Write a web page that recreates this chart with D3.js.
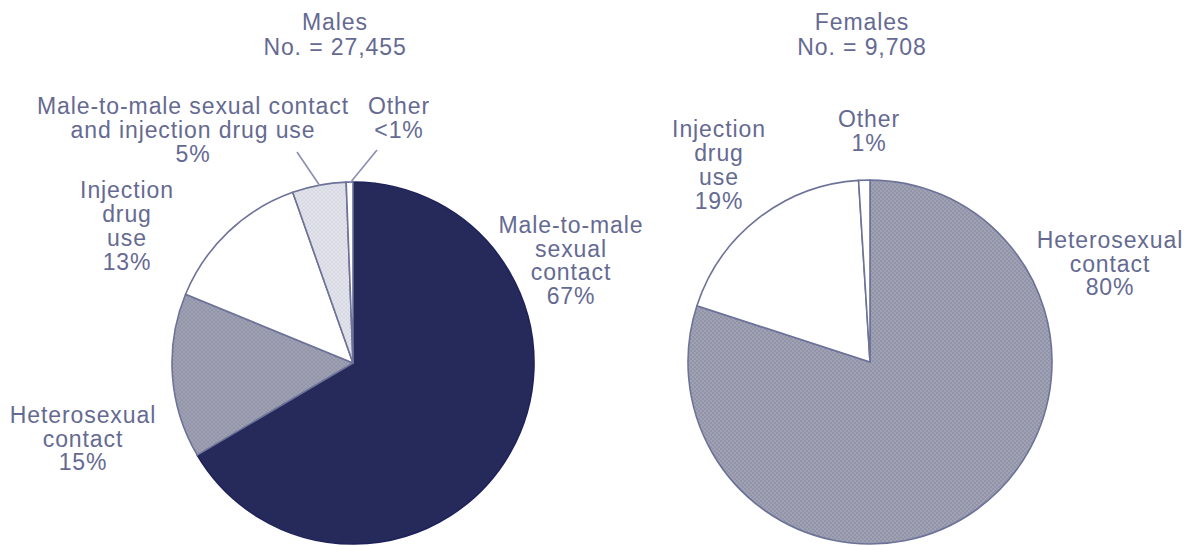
<!DOCTYPE html>
<html>
<head>
<meta charset="utf-8">
<script src="https://cdn.jsdelivr.net/npm/d3@7"></script>
<style>
  body { margin: 0; background: #fff; }
  svg { display: block; }
</style>
</head>
<body>
<svg id="chart" width="1193" height="546"></svg>
<script>
// data
const maleTitle = ["Males", "No. = 27,455"];
const maleCategories = ["Male-to-male sexual contact", "Heterosexual contact", "Injection drug use",
                        "Male-to-male sexual contact and injection drug use", "Other"];
const maleValues = [66.5, 14.7, 13.4, 4.8, 0.6];
const malePctLabels = ["67%", "15%", "13%", "5%", "<1%"];

const femaleTitle = ["Females", "No. = 9,708"];
const femaleCategories = ["Heterosexual contact", "Injection drug use", "Other"];
const femaleValues = [80, 19, 1];
const femalePctLabels = ["80%", "19%", "1%"];

const fills = {
    "Male-to-male sexual contact": "#262a5b",
    "Heterosexual contact": "url(#dotsGray)",
    "Injection drug use": "#ffffff",
    "Male-to-male sexual contact and injection drug use": "url(#dotsLight)",
    "Other": "#ffffff"
};

const textColor = "#656a92";

var svg = d3.select("#chart");

// stipple patterns
var defs = svg.append("defs");
function stipple(id, base, dot) {
    var p = defs.append("pattern")
        .attr("id", id)
        .attr("width", 4).attr("height", 4)
        .attr("patternUnits", "userSpaceOnUse");
    p.append("rect").attr("width", 4).attr("height", 4).attr("fill", base);
    p.append("rect").attr("x", 0).attr("y", 0).attr("width", 2).attr("height", 2).attr("fill", dot);
    p.append("rect").attr("x", 2).attr("y", 2).attr("width", 2).attr("height", 2).attr("fill", dot);
}
stipple("dotsGray", "#a0a2b4", "#9295a9");
stipple("dotsLight", "#e4e5ec", "#d6d8e2");

function drawPie(cx, cy, r, cats, vals) {
    var pie = d3.pie().sort(null).value(d => d.v);
    var arc = d3.arc().innerRadius(0).outerRadius(r);
    var data = cats.map((c, i) => ({c: c, v: vals[i]}));
    svg.append("g")
        .attr("transform", "translate(" + cx + "," + cy + ")")
        .selectAll("path")
        .data(pie(data))
        .enter()
        .append("path")
        .attr("d", arc)
        .attr("fill", d => fills[d.data.c])
        .style("stroke", d => d.data.c === "Male-to-male sexual contact" ? "#1e225a" : "#6d7298")
        .style("stroke-width", 1.6)
        .style("stroke-linejoin", "round");
}

function label(x, y, lines, lh) {
    var t = svg.append("text")
        .attr("x", x)
        .attr("y", y)
        .attr("text-anchor", "middle")
        .style("font-family", "'Liberation Sans', Arial, sans-serif")
        .style("font-size", "23px")
        .style("letter-spacing", "0.9px")
        .style("fill", textColor);
    lines.forEach((l, i) => {
        t.append("tspan").attr("x", x).attr("y", y + i * (lh || 24)).text(l);
    });
}

function leader(x1, y1, x2, y2) {
    svg.append("line")
        .attr("x1", x1).attr("y1", y1).attr("x2", x2).attr("y2", y2)
        .style("stroke", "#8a8eb0")
        .style("stroke-width", 1.6);
}

// Males
drawPie(353, 363, 181, maleCategories, maleValues);
label(335, 30, maleTitle, 25);
label(193, 114, ["Male-to-male sexual contact", "and injection drug use", malePctLabels[3]]);
label(399, 114, ["Other", malePctLabels[4]]);
label(127, 198, ["Injection", "drug", "use", malePctLabels[2]]);
label(571, 233, ["Male-to-male", "sexual", "contact", malePctLabels[0]], 23.5);
label(83, 423, ["Heterosexual", "contact", malePctLabels[1]], 23.5);
leader(297, 152, 320, 186);
leader(377, 150, 350, 183);

// Females
drawPie(870, 362, 182, femaleCategories, femaleValues);
label(862, 30, femaleTitle, 25);
label(719, 137, ["Injection", "drug", "use", femalePctLabels[1]]);
label(869, 127, ["Other", femalePctLabels[2]], 23.5);
label(1110, 248, ["Heterosexual", "contact", femalePctLabels[0]], 23.5);
</script>
</body>
</html>
